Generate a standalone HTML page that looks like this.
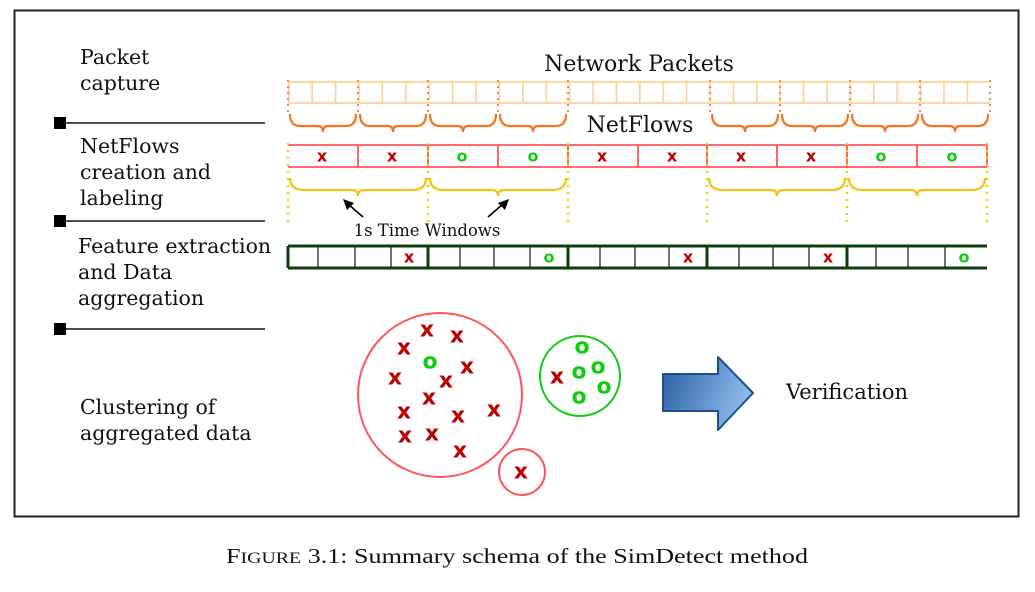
<!DOCTYPE html>
<html><head><meta charset="utf-8"><style>
html,body{margin:0;padding:0;background:#fff;}
svg{display:block;}
.s{font-family:"DejaVu Serif","Liberation Serif",serif;fill:#111;}
.x{font-family:"DejaVu Sans","Liberation Sans",sans-serif;font-weight:bold;fill:#b00;text-anchor:middle;dominant-baseline:central;}
.o{font-family:"DejaVu Sans","Liberation Sans",sans-serif;font-weight:bold;fill:#1c1;text-anchor:middle;dominant-baseline:central;}
</style></head><body>
<svg width="1035" height="592" viewBox="0 0 1035 592" xmlns="http://www.w3.org/2000/svg">
<defs>
<pattern id="pk" patternUnits="userSpaceOnUse" x="288" y="82" width="23.4" height="21">
<line x1="0.8" y1="0" x2="0.8" y2="21" stroke="#ffcf99" stroke-width="1.6"/>
</pattern>
<linearGradient id="ag" x1="0" y1="0" x2="1" y2="0.3">
<stop offset="0" stop-color="#2a5fa5"/><stop offset="1" stop-color="#8ab8ea"/>
</linearGradient>
</defs>
<rect x="14.5" y="10.5" width="1004" height="506" fill="none" stroke="#222" stroke-width="2"/>

<!-- left labels -->
<g class="s" font-size="20.5">
<text x="80" y="64">Packet</text><text x="80" y="90">capture</text>
<text x="80" y="153">NetFlows</text><text x="80" y="179">creation and</text><text x="80" y="205">labeling</text>
<text x="78" y="253">Feature extraction</text><text x="78" y="279">and Data</text><text x="78" y="305">aggregation</text>
<text x="80" y="414">Clustering of</text><text x="80" y="440">aggregated data</text>
</g>
<g stroke="#111" stroke-width="1.5">
<line x1="60" y1="123" x2="265" y2="123"/><line x1="60" y1="221" x2="265" y2="221"/><line x1="60" y1="329" x2="265" y2="329"/>
</g>
<rect x="54" y="117" width="12" height="12" fill="#000"/>
<rect x="54" y="215" width="12" height="12" fill="#000"/>
<rect x="54" y="323" width="12" height="12" fill="#000"/>

<!-- packets -->
<text class="s" x="639" y="71" font-size="22" text-anchor="middle">Network Packets</text>
<rect x="288" y="82" width="702" height="21" fill="url(#pk)"/>
<line x1="288" y1="82" x2="990" y2="82" stroke="#ffcf99" stroke-width="1.8"/>
<line x1="288" y1="103" x2="990" y2="103" stroke="#ffcf99" stroke-width="1.8"/>
<g stroke="#f98a5a" stroke-width="2.2" stroke-dasharray="2 4">
<line x1="288" y1="80" x2="288" y2="113"/><line x1="358" y1="80" x2="358" y2="113"/><line x1="428" y1="80" x2="428" y2="113"/><line x1="498" y1="80" x2="498" y2="113"/><line x1="568" y1="80" x2="568" y2="113"/>
<line x1="710" y1="80" x2="710" y2="113"/><line x1="780" y1="80" x2="780" y2="113"/><line x1="850" y1="80" x2="850" y2="113"/><line x1="920" y1="80" x2="920" y2="113"/><line x1="990" y1="80" x2="990" y2="113"/>
</g>
<g fill="none" stroke="#f5741e" stroke-width="2.2">
<path d="M290,114 Q290,126 300,126 L318,126 Q323,126 323,132 Q323,126 328,126 L346,126 Q356,126 356,114"/>
<path d="M360,114 Q360,126 370,126 L388,126 Q393,126 393,132 Q393,126 398,126 L416,126 Q426,126 426,114"/>
<path d="M430,114 Q430,126 440,126 L458,126 Q463,126 463,132 Q463,126 468,126 L486,126 Q496,126 496,114"/>
<path d="M500,114 Q500,126 510,126 L528,126 Q533,126 533,132 Q533,126 538,126 L556,126 Q566,126 566,114"/>
<path d="M712,114 Q712,126 722,126 L740,126 Q745,126 745,132 Q745,126 750,126 L768,126 Q778,126 778,114"/>
<path d="M782,114 Q782,126 792,126 L810,126 Q815,126 815,132 Q815,126 820,126 L838,126 Q848,126 848,114"/>
<path d="M852,114 Q852,126 862,126 L880,126 Q885,126 885,132 Q885,126 890,126 L908,126 Q918,126 918,114"/>
<path d="M922,114 Q922,126 932,126 L950,126 Q955,126 955,132 Q955,126 960,126 L978,126 Q988,126 988,114"/>
</g>
<text class="s" x="640" y="132" font-size="22" text-anchor="middle">NetFlows</text>

<!-- netflows -->
<g stroke="#f55" stroke-width="1.8">
<line x1="288" y1="145" x2="987" y2="145"/><line x1="288" y1="167" x2="987" y2="167"/>
<line x1="358" y1="145" x2="358" y2="167"/><line x1="498" y1="145" x2="498" y2="167"/><line x1="638" y1="145" x2="638" y2="167"/><line x1="777" y1="145" x2="777" y2="167"/><line x1="917" y1="145" x2="917" y2="167"/>
<line x1="428" y1="145" x2="428" y2="167"/><line x1="568" y1="145" x2="568" y2="167"/><line x1="707" y1="145" x2="707" y2="167"/><line x1="847" y1="145" x2="847" y2="167"/><line x1="987" y1="145" x2="987" y2="167"/>
</g>
<g stroke="#fc0" stroke-width="2.5" stroke-dasharray="2 5">
<line x1="288" y1="143" x2="288" y2="223"/><line x1="428" y1="143" x2="428" y2="223"/><line x1="568" y1="143" x2="568" y2="223"/><line x1="707" y1="143" x2="707" y2="223"/><line x1="847" y1="143" x2="847" y2="223"/><line x1="987" y1="143" x2="987" y2="223"/>
</g>
<g font-size="16">
<text class="x" x="322" y="156">x</text><text class="x" x="392" y="156">x</text><text class="o" x="462" y="156">o</text><text class="o" x="533" y="156">o</text><text class="x" x="602" y="156">x</text><text class="x" x="672" y="156">x</text><text class="x" x="741" y="156">x</text><text class="x" x="811" y="156">x</text><text class="o" x="881" y="156">o</text><text class="o" x="952" y="156">o</text>
</g>
<g fill="none" stroke="#f5c211" stroke-width="2.2">
<path d="M290,178 Q290,190 304,190 L352,190 Q358,190 358,196 Q358,190 364,190 L412,190 Q426,190 426,178"/>
<path d="M430,178 Q430,190 444,190 L492,190 Q498,190 498,196 Q498,190 504,190 L552,190 Q566,190 566,178"/>
<path d="M709,178 Q709,190 723,190 L771,190 Q777,190 777,196 Q777,190 783,190 L831,190 Q845,190 845,178"/>
<path d="M849,178 Q849,190 863,190 L911,190 Q917,190 917,196 Q917,190 923,190 L971,190 Q985,190 985,178"/>
</g>
<g stroke="#000" stroke-width="1.6">
<line x1="363" y1="217" x2="348" y2="204"/><line x1="488" y1="217" x2="503" y2="204"/>
</g>
<polygon points="343,199 354,203 347,210" fill="#000"/>
<polygon points="509,199 498,203 505,210" fill="#000"/>
<text class="s" x="427" y="236" font-size="16.5" text-anchor="middle">1s Time Windows</text>

<!-- features -->
<g stroke="#444" stroke-width="1.5">
<line x1="318" y1="246" x2="318" y2="268"/><line x1="355" y1="246" x2="355" y2="268"/><line x1="391" y1="246" x2="391" y2="268"/>
<line x1="460" y1="246" x2="460" y2="268"/><line x1="494" y1="246" x2="494" y2="268"/><line x1="530" y1="246" x2="530" y2="268"/>
<line x1="600" y1="246" x2="600" y2="268"/><line x1="635" y1="246" x2="635" y2="268"/><line x1="669" y1="246" x2="669" y2="268"/>
<line x1="739" y1="246" x2="739" y2="268"/><line x1="773" y1="246" x2="773" y2="268"/><line x1="809" y1="246" x2="809" y2="268"/>
<line x1="876" y1="246" x2="876" y2="268"/><line x1="908" y1="246" x2="908" y2="268"/><line x1="945" y1="246" x2="945" y2="268"/>
</g>
<g stroke="#0d3d0d" stroke-width="3">
<line x1="288" y1="246" x2="987" y2="246"/><line x1="288" y1="268" x2="987" y2="268"/>
<line x1="288" y1="246" x2="288" y2="268"/><line x1="428" y1="246" x2="428" y2="268"/><line x1="568" y1="246" x2="568" y2="268"/><line x1="707" y1="246" x2="707" y2="268"/><line x1="847" y1="246" x2="847" y2="268"/>
</g>
<g font-size="16">
<text class="x" x="409" y="257">x</text><text class="o" x="549" y="257">o</text><text class="x" x="688" y="257">x</text><text class="x" x="828" y="257">x</text><text class="o" x="964" y="257">o</text>
</g>

<!-- clusters -->
<circle cx="440" cy="395" r="82" fill="none" stroke="#f55" stroke-width="2"/>
<circle cx="580" cy="376" r="40" fill="none" stroke="#1c1" stroke-width="2"/>
<circle cx="522" cy="472" r="23" fill="none" stroke="#f55" stroke-width="2"/>
<g font-size="22">
<text class="x" x="427" y="330">x</text><text class="x" x="457" y="336">x</text><text class="x" x="404" y="348">x</text><text class="x" x="467" y="367">x</text><text class="x" x="395" y="378">x</text><text class="x" x="446" y="381">x</text><text class="x" x="429" y="398">x</text><text class="x" x="404" y="412">x</text><text class="x" x="458" y="416">x</text><text class="x" x="494" y="410">x</text><text class="x" x="405" y="436">x</text><text class="x" x="432" y="434">x</text><text class="x" x="460" y="451">x</text>
<text class="o" x="430" y="362">o</text>
<text class="x" x="557" y="377">x</text>
<text class="o" x="582" y="347">o</text><text class="o" x="579" y="372">o</text><text class="o" x="598" y="367">o</text><text class="o" x="604" y="387">o</text><text class="o" x="579" y="397">o</text>
<text class="x" x="521" y="472">x</text>
</g>

<!-- arrow -->
<polygon points="663,374 718,374 718,357 753,393 718,430 718,411 663,411" fill="url(#ag)" stroke="#1d4f8a" stroke-width="2" stroke-linejoin="round"/>
<text class="s" x="786" y="399" font-size="21">Verification</text>

<!-- caption -->
<text x="226" y="563" font-family="'Liberation Serif',serif" font-size="21" fill="#111" textLength="582" lengthAdjust="spacingAndGlyphs">F<tspan font-size="16">IGURE</tspan> 3.1: Summary schema of the SimDetect method</text>
</svg>
</body></html>
